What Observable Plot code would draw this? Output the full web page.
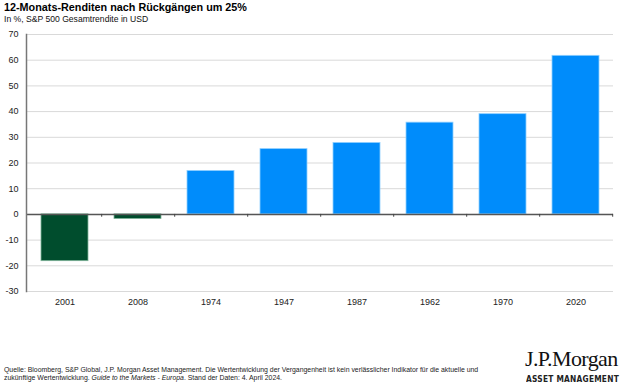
<!DOCTYPE html>
<html>
<head>
<meta charset="utf-8">
<script src="https://cdn.jsdelivr.net/npm/d3@7"></script>
<script src="https://cdn.jsdelivr.net/npm/@observablehq/plot@0.6"></script>
<style>
  html, body { margin: 0; padding: 0; background: #fff; }
  #wrap { position: relative; width: 624px; height: 386px; overflow: hidden; font-family: "Liberation Sans", Arial, sans-serif; color: #000; }
  #title { position: absolute; left: 4px; top: 1px; font-size: 10.8px; font-weight: bold; white-space: nowrap; }
  #subtitle { position: absolute; left: 4px; top: 14px; font-size: 8.6px; white-space: nowrap; color: #111; }
  #chart { position: absolute; left: 0; top: 20px; }
  #source { position: absolute; left: 4px; top: 366px; font-size: 6.9px; line-height: 7.6px; color: #222; white-space: nowrap; }
  #logo1 { position: absolute; left: 525px; top: 346px; font-family: "Liberation Serif", serif; font-size: 22px; letter-spacing: -0.6px; color: #111; white-space: nowrap; }
  #logo2 { position: absolute; left: 526px; top: 374px; font-family: "DejaVu Sans", sans-serif; font-size: 9px; font-weight: bold; letter-spacing: 0.3px; color: #222; white-space: nowrap; transform-origin: 0 0; }
</style>
</head>
<body>
<div id="wrap">
  <div id="title">12-Monats-Renditen nach Rückgängen um 25%</div>
  <div id="subtitle">In %, S&amp;P 500 Gesamtrendite in USD</div>
  <div id="chart"></div>
  <div id="source">Quelle: Bloomberg, S&amp;P Global, J.P. Morgan Asset Management. Die Wertentwicklung der Vergangenheit ist kein verlässlicher Indikator für die aktuelle und<br>zukünftige Wertentwicklung. <i>Guide to the Markets - Europa</i>. Stand der Daten: 4. April 2024.</div>
  <div id="logo1">J.P.Morgan</div>
  <div id="logo2">ASSET MANAGEMENT</div>
</div>
<script>
const years = ["2001", "2008", "1974", "1947", "1987", "1962", "1970", "2020"];
const returns = [-18.2, -1.8, 16.9, 25.4, 27.8, 35.7, 39.0, 61.7];
const yTicks = [-30, -20, -10, 0, 10, 20, 30, 40, 50, 60, 70];

const data = years.map((y, i) => ({year: y, value: returns[i]}));

const W = 624, ML = 26, MR = 11;
const step = (W - ML - MR) / years.length;

const plot = Plot.plot({
  width: W,
  height: 295,
  marginTop: 14,
  marginBottom: 24,
  marginLeft: ML,
  marginRight: MR,
  style: {fontFamily: "'Liberation Sans', Arial, sans-serif", background: "transparent"},
  x: {type: "band", domain: years, padding: 0},
  y: {domain: [-30, 70]},
  marks: [
    Plot.gridY(yTicks, {stroke: "#d9d9d9", strokeOpacity: 1, strokeWidth: 1}),
    Plot.barY(data, {
      x: "year", y: "value",
      fill: d => d.value < 0 ? "#004d2d" : "#008cfb",
      stroke: d => d.value < 0 ? "#7fb59a" : "#8fcfff",
      strokeWidth: 0.8,
      insetLeft: 13, insetRight: 13
    }),
    Plot.ruleY([0], {stroke: "#555", strokeWidth: 1.5}),
    Plot.ruleX(years, {x: d => d, y1: 0, y2: -1.1, dx: step / 2, stroke: "#444", strokeWidth: 1}),
    Plot.frame({anchor: "left", stroke: "#777", strokeWidth: 1.5}),
    Plot.axisY({ticks: yTicks, tickSize: 0, tickPadding: 8, tickFormat: d => `${d}`, fontSize: 9, fill: "#222", label: null}),
    Plot.axisX({tickSize: 0, tickPadding: 7, fontSize: 9, fill: "#222", label: null})
  ]
});
document.getElementById("chart").appendChild(plot);

// fit the "ASSET MANAGEMENT" line to the logo width
const l2 = document.getElementById("logo2");
const target = 93;
const w = l2.getBoundingClientRect().width;
if (w > 0) l2.style.transform = `scaleX(${target / w})`;
</script>
</body>
</html>
